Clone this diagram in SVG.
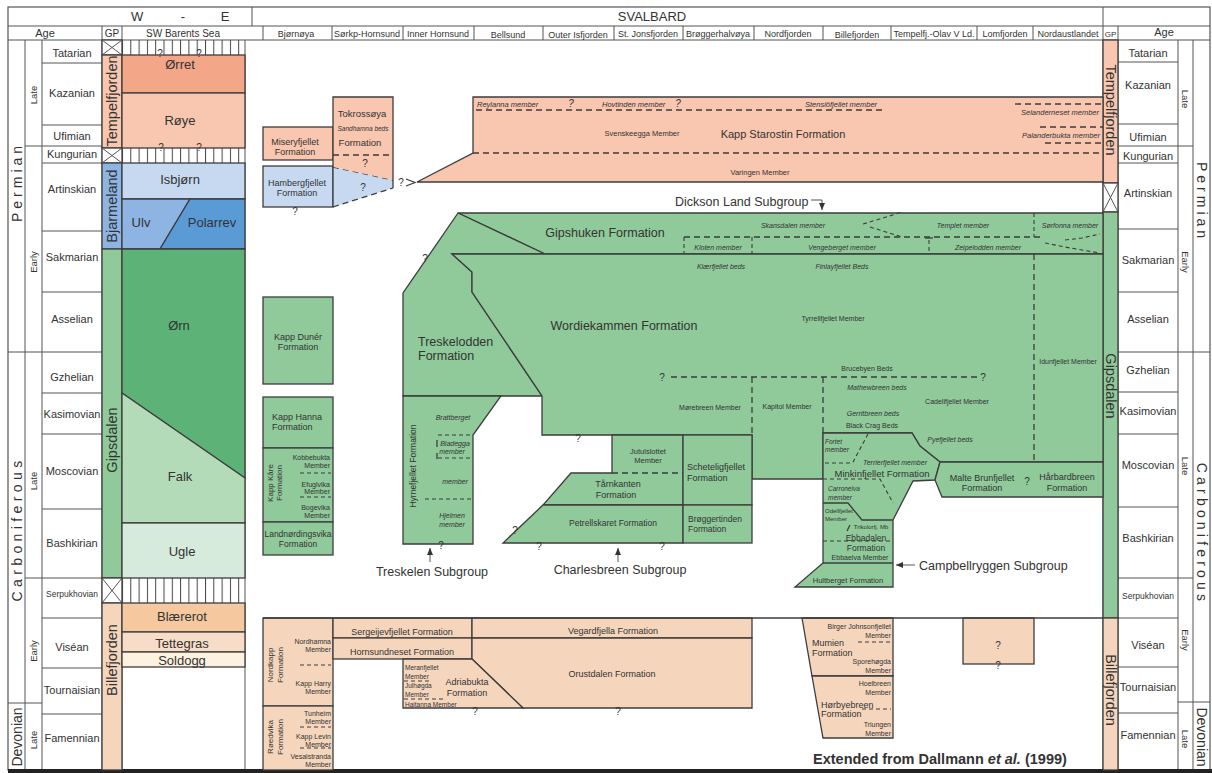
<svg xmlns="http://www.w3.org/2000/svg" width="1212" height="773" viewBox="0 0 1212 773">
<defs>
<pattern id="hatch" patternUnits="userSpaceOnUse" x="122" y="0" width="8.3" height="10">
<line x1="0.5" y1="0" x2="0.5" y2="10" stroke="#444" stroke-width="1"/>
</pattern>
<marker id="ah" markerWidth="8" markerHeight="8" refX="7" refY="4" orient="auto" markerUnits="userSpaceOnUse">
<path d="M0,1 L7,4 L0,7 Z" fill="#333"/>
</marker>
</defs>
<style>
.t{font-family:"Liberation Sans",Arial,Helvetica,sans-serif;fill:#333}
.i{font-style:italic}
.m{text-anchor:middle}
.e{text-anchor:end}
.bd{font-weight:bold}
.b{stroke:#3d3d3d;stroke-width:1.3}
.l{stroke:#555;stroke-width:1;fill:none}
.sl{stroke:#3d3d3d;stroke-width:1.3;fill:none}
.d{stroke:#3d3d3d;stroke-width:1.3;fill:none;stroke-dasharray:6 4}
.ds{stroke:#3d3d3d;stroke-width:1.1;fill:none;stroke-dasharray:4 3}
.sal{fill:#f9c6b0}.org{fill:#f4a688}.bl1{fill:#c6d9f0}.bl2{fill:#8db4e2}.bl3{fill:#5b9bd5}
.grn{fill:#90c99a}.dgr{fill:#5db377}.lgr{fill:#b4dbb8}.vlg{fill:#d6ebdc}
.pch{fill:#f5d6bd}.bla{fill:#f5c89f}.tet{fill:#f7dcc7}.sol{fill:#fdf1df}
.s6{font-size:6px}.s65{font-size:6.5px}.s7{font-size:7px}.s75{font-size:7.5px}.s8{font-size:8px}.s85{font-size:8.5px}
.s9{font-size:9px}.s95{font-size:9.5px}.s10{font-size:10px}.s11{font-size:11px}.s125{font-size:12.5px}.s13{font-size:13px}.s14{font-size:14px}.s145{font-size:14.5px}
</style>
<rect x="0" y="0" width="1212" height="773" fill="#fff"/>

<g id="frame">
<rect x="8" y="7" width="1202" height="763" fill="none" stroke="#555" stroke-width="1.2"/>
<line class="l" x1="8" y1="26" x2="1210" y2="26"/>
<line class="l" x1="8" y1="40" x2="1210" y2="40"/>
<line class="l" x1="252" y1="7" x2="252" y2="26"/>
<line class="l" x1="1103" y1="7" x2="1103" y2="770"/>
<g class="l">
<line x1="102" y1="26" x2="102" y2="770"/><line x1="122" y1="26" x2="122" y2="770"/><line x1="245" y1="40" x2="245" y2="770"/>
<line x1="25" y1="40" x2="25" y2="770"/><line x1="42" y1="40" x2="42" y2="770"/>
<line x1="263" y1="26" x2="263" y2="40"/><line x1="332" y1="26" x2="332" y2="40"/><line x1="403" y1="26" x2="403" y2="40"/>
<line x1="474" y1="26" x2="474" y2="40"/><line x1="543" y1="26" x2="543" y2="40"/><line x1="614" y1="26" x2="614" y2="40"/>
<line x1="683" y1="26" x2="683" y2="40"/><line x1="754" y1="26" x2="754" y2="40"/><line x1="823" y1="26" x2="823" y2="40"/>
<line x1="891" y1="26" x2="891" y2="40"/><line x1="977" y1="26" x2="977" y2="40"/><line x1="1033" y1="26" x2="1033" y2="40"/>
<line x1="1118" y1="26" x2="1118" y2="770"/><line x1="1178" y1="40" x2="1178" y2="770"/><line x1="1193" y1="40" x2="1193" y2="770"/>
</g>
<text class="t s13" x="131" y="21">W</text>
<text class="t s13 m" x="183" y="21">-</text>
<text class="t s13 m" x="225" y="21">E</text>
<text class="t s13 m" x="652" y="21">SVALBARD</text>
<text class="t s11 m" x="45" y="37">Age</text>
<text class="t s10 m" x="112" y="37">GP</text>
<text class="t s10 m" x="183" y="37">SW Barents Sea</text>
<g class="t s9 m">
<text x="296" y="37">Bjørnøya</text>
<text x="367" y="37">Sørkp-Hornsund</text>
<text x="438" y="37">Inner Hornsund</text>
<text x="508" y="38">Bellsund</text>
<text x="578" y="37.5">Outer Isfjorden</text>
<text x="648" y="37">St. Jonsfjorden</text>
<text x="718" y="37">Brøggerhalvøya</text>
<text x="788" y="37">Nordfjorden</text>
<text x="857" y="38">Billefjorden</text>
<text x="934" y="37">Tempelfj.-Olav V Ld.</text>
<text x="1005" y="37">Lomfjorden</text>
<text x="1068" y="37">Nordaustlandet</text>
</g>
<text class="t s8 m" x="1110.5" y="37">GP</text>
<text class="t s11 m" x="1164" y="36">Age</text>
<rect x="8" y="769" width="1204" height="4" fill="#222"/>
</g>

<g id="age-left">
<g class="l">
<line x1="42" y1="63" x2="102" y2="63"/><line x1="42" y1="125" x2="102" y2="125"/><line x1="25" y1="146" x2="102" y2="146"/>
<line x1="42" y1="163" x2="102" y2="163"/><line x1="42" y1="231" x2="102" y2="231"/><line x1="42" y1="292" x2="102" y2="292"/>
<line x1="8" y1="352" x2="102" y2="352"/><line x1="42" y1="393" x2="102" y2="393"/><line x1="42" y1="434" x2="102" y2="434"/>
<line x1="42" y1="509" x2="102" y2="509"/><line x1="25" y1="578" x2="102" y2="578"/><line x1="42" y1="618" x2="102" y2="618"/>
<line x1="42" y1="668" x2="102" y2="668"/><line x1="8" y1="703" x2="42" y2="703"/><line x1="42" y1="714" x2="102" y2="714"/>
</g>
<g class="t s11 m">
<text x="72" y="57">Tatarian</text><text x="72" y="97">Kazanian</text><text x="72" y="140">Ufimian</text>
<text x="72" y="158">Kungurian</text><text x="72" y="193">Artinskian</text><text x="72" y="261">Sakmarian</text>
<text x="72" y="323">Asselian</text><text x="72" y="381">Gzhelian</text><text x="72" y="418">Kasimovian</text>
<text x="72" y="475">Moscovian</text><text x="72" y="547">Bashkirian</text>
<text x="72" y="651">Viséan</text><text x="72" y="694">Tournaisian</text><text x="72" y="742">Famennian</text>
</g>
<text class="t s85 m" x="72" y="597">Serpukhovian</text>
<g class="t s95 m">
<text transform="translate(33.5,95) rotate(-90)" y="3.3">Late</text>
<text transform="translate(33.5,262) rotate(-90)" y="3.3">Early</text>
<text transform="translate(33.5,481) rotate(-90)" y="3.3">Late</text>
<text transform="translate(33.5,651) rotate(-90)" y="3.3">Early</text>
<text transform="translate(33.5,740) rotate(-90)" y="3.3">Late</text>
</g>
<g class="t s14 m">
<text transform="translate(17,182) rotate(-90)" y="5" letter-spacing="4">Permian</text>
<text transform="translate(17,529) rotate(-90)" y="5" letter-spacing="4.4">Carboniferous</text>
<text transform="translate(17,737) rotate(-90)" y="5">Devonian</text>
</g>
</g>

<g id="gp-left">
<rect x="102" y="40" width="20" height="15" fill="#fff" class="b"/>
<path class="l" d="M102,40 L122,55 M122,40 L102,55"/>
<rect x="102" y="55" width="20" height="93" class="sal b"/>
<rect x="102" y="148" width="20" height="15" fill="#fff" class="b"/>
<path class="l" d="M102,148 L122,163 M122,148 L102,163"/>
<rect x="102" y="163" width="20" height="86" class="bl2 b"/>
<rect x="102" y="249" width="20" height="329" class="grn b"/>
<rect x="102" y="578" width="20" height="25" fill="#fff" class="b"/>
<path class="l" d="M102,578 L122,603 M122,578 L102,603"/>
<rect x="102" y="603" width="20" height="167" class="pch b"/>
<g class="t s145 m">
<text transform="translate(112,101) rotate(-90)" y="5">Tempelfjorden</text>
<text transform="translate(112,206) rotate(-90)" y="5">Bjarmeland</text>
<text transform="translate(112,440) rotate(-90)" y="5">Gipsdalen</text>
<text transform="translate(112,660) rotate(-90)" y="5">Billefjorden</text>
</g>
</g>

<g id="sw-barents">
<rect x="122" y="40" width="123" height="15" fill="url(#hatch)"/>
<rect x="122" y="55" width="123" height="38" class="org b"/>
<rect x="122" y="93" width="123" height="55" class="sal b"/>
<rect x="122" y="148" width="123" height="15" fill="url(#hatch)"/>
<rect x="122" y="163" width="123" height="36" class="bl1 b"/>
<polygon points="122,199 190,199 160,249 122,249" class="bl2 b"/>
<polygon points="190,199 245,199 245,249 160,249" class="bl3 b"/>
<polygon points="122,249 245,249 245,478 122,393" class="dgr b"/>
<polygon points="122,393 245,478 245,523 122,523" class="lgr b"/>
<rect x="122" y="523" width="123" height="55" class="vlg b"/>
<rect x="122" y="578" width="123" height="25" fill="url(#hatch)"/>
<rect x="122" y="603" width="123" height="29" class="bla b"/>
<rect x="122" y="632" width="123" height="20" class="tet b"/>
<rect x="122" y="652" width="123" height="15" class="sol b"/>
<g class="t s10 m">
<text x="160" y="57">?</text><text x="199" y="57">?</text>
<text x="161" y="151">?</text><text x="199" y="151">?</text>
</g>
<g class="t s13 m">
<text x="180" y="69">Ørret</text><text x="180" y="125">Røye</text><text x="180" y="184">Isbjørn</text>
<text x="141" y="227">Ulv</text><text x="212" y="227">Polarrev</text><text x="179" y="330">Ørn</text>
<text x="180" y="481">Falk</text><text x="182" y="556">Ugle</text><text x="182" y="621">Blærerot</text>
<text x="182" y="648">Tettegras</text><text x="182" y="665">Soldogg</text>
</g>
</g>

<g id="age-right">
<g class="l">
<line x1="1118" y1="62" x2="1178" y2="62"/><line x1="1118" y1="124" x2="1178" y2="124"/><line x1="1118" y1="146" x2="1193" y2="146"/>
<line x1="1118" y1="163" x2="1178" y2="163"/><line x1="1118" y1="229" x2="1178" y2="229"/><line x1="1118" y1="292" x2="1178" y2="292"/>
<line x1="1118" y1="352" x2="1210" y2="352"/><line x1="1118" y1="392" x2="1178" y2="392"/><line x1="1118" y1="434" x2="1178" y2="434"/>
<line x1="1118" y1="507" x2="1178" y2="507"/><line x1="1118" y1="578" x2="1193" y2="578"/><line x1="1118" y1="618" x2="1178" y2="618"/>
<line x1="1118" y1="667" x2="1178" y2="667"/><line x1="1178" y1="702" x2="1210" y2="702"/><line x1="1118" y1="713" x2="1178" y2="713"/>
</g>
<g class="t s11 m">
<text x="1148" y="57">Tatarian</text><text x="1148" y="89">Kazanian</text><text x="1148" y="141">Ufimian</text>
<text x="1148" y="160">Kungurian</text><text x="1148" y="197">Artinskian</text><text x="1148" y="264">Sakmarian</text>
<text x="1148" y="323">Asselian</text><text x="1148" y="374">Gzhelian</text><text x="1148" y="415">Kasimovian</text>
<text x="1148" y="469">Moscovian</text><text x="1148" y="542">Bashkirian</text>
<text x="1148" y="649">Viséan</text><text x="1148" y="691">Tournaisian</text><text x="1148" y="739">Famennian</text>
</g>
<text class="t s85 m" x="1148" y="599">Serpukhovian</text>
<g class="t s95 m">
<text transform="translate(1185.5,99) rotate(90)" y="3.3">Late</text>
<text transform="translate(1185.5,262) rotate(90)" y="3.3">Early</text>
<text transform="translate(1185.5,466) rotate(90)" y="3.3">Late</text>
<text transform="translate(1185.5,640) rotate(90)" y="3.3">Early</text>
<text transform="translate(1185.5,739) rotate(90)" y="3.3">Late</text>
</g>
<g class="t s14 m">
<text transform="translate(1202,202) rotate(90)" y="5" letter-spacing="4">Permian</text>
<text transform="translate(1202,534) rotate(90)" y="5" letter-spacing="4.2">Carboniferous</text>
<text transform="translate(1202,737) rotate(90)" y="5">Devonian</text>
</g>
</g>

<g id="gp-right">
<rect x="1103" y="40" width="15" height="143" class="sal b"/>
<rect x="1103" y="183" width="15" height="29" fill="#fff" class="b"/>
<path class="l" d="M1103,183 L1118,212 M1118,183 L1103,212"/>
<rect x="1103" y="212" width="15" height="406" class="grn b"/>
<rect x="1103" y="618" width="15" height="152" class="pch b"/>
<g class="t s145 m">
<text transform="translate(1110.5,110) rotate(90)" y="5">Tempelfjorden</text>
<text transform="translate(1110.5,386) rotate(90)" y="5">Gipsdalen</text>
<text transform="translate(1110.5,690) rotate(90)" y="5">Billefjorden</text>
</g>
</g>

<g id="miseryfjellet">
<rect x="263" y="127" width="70" height="33" class="sal b"/>
<text class="t s9 m" x="295" y="145">Miseryfjellet</text>
<text class="t s9 m" x="295" y="154.5">Formation</text>
</g>
<g id="hambergfjellet">
<rect x="263" y="166" width="70" height="41" class="bl1 b"/>
<polygon points="333,167 393,180 393,188 333,207" class="bl1"/>
<line class="d" x1="333" y1="167" x2="393" y2="180"/>
<line class="d" x1="333" y1="207" x2="393" y2="188"/>
<text class="t s9 m" x="297" y="186">Hambergfjellet</text>
<text class="t s9 m" x="297" y="195.5">Formation</text>
<text class="t s10 m" x="295" y="215">?</text>
<text class="t s10 m" x="363" y="191">?</text>
</g>
<g id="tokrossoya">
<polygon points="333,97 393,97 393,180 333,167" class="sal"/>
<polyline class="sl" points="333,207 333,97 393,97 393,188"/>
<line class="d" x1="333" y1="155" x2="393" y2="155"/>
<text class="t s95 m" x="362" y="117">Tokrossøya</text>
<text class="t s65 i m" x="363" y="130.5">Sandhamna beds</text>
<text class="t s95 m" x="360" y="146">Formation</text>
<text class="t s10 m" x="365" y="167">?</text>
<text class="t s10 m" x="401" y="186">?</text>
<polyline class="sl" points="406,179 415,182.5 406,186"/>
</g>

<g id="kapp-starostin">
<polygon points="473,97 1103,97 1103,182 417,182 473,153" class="sal b"/>
<line class="d" x1="476" y1="110" x2="886" y2="110"/>
<line class="d" x1="473" y1="153" x2="1103" y2="153"/>
<line class="d" x1="1015" y1="104" x2="1103" y2="104"/>
<line class="d" x1="1040" y1="127" x2="1103" y2="127"/>
<line class="d" x1="1045" y1="143" x2="1103" y2="143"/>
<g class="t s75 i">
<text x="477" y="107">Reylanna member</text>
<text x="602" y="107">Hovtinden member</text>
<text x="805" y="107">Stensiöfjellet member</text>
<text class="e" x="1099" y="114.5">Selanderneset member</text>
<text class="e" x="1100" y="137.5">Palanderbukta member</text>
</g>
<text class="t s10 i m" x="571" y="107">?</text>
<text class="t s10 i m" x="678" y="107">?</text>
<text class="t s75 m" x="642" y="136">Svenskeegga Member</text>
<text class="t s11 m" x="783" y="138">Kapp Starostin Formation</text>
<text class="t s75 m" x="760" y="174.5">Varingen Member</text>
</g>

<g id="gipshuken">
<polygon points="458,213 1103,213 1103,254 545,254" class="grn b"/>
<line class="d" x1="684" y1="237" x2="1040" y2="237"/>
<line class="ds" x1="684" y1="237" x2="684" y2="254"/>
<line class="ds" x1="752" y1="237" x2="752" y2="254"/>
<line class="ds" x1="929" y1="240" x2="929" y2="254"/>
<line class="sl" x1="925" y1="238" x2="933" y2="238"/>
<line class="ds" x1="1034" y1="213" x2="1034" y2="237"/>
<polyline class="ds" points="863,224 883,218 902,212"/>
<polyline class="ds" points="870,227 886,232 902,237"/>
<polyline class="ds" points="1045,243 1070,248 1100,253"/>
<polyline class="ds" points="1065,240 1082,238 1100,234"/>
<text class="t s125 m" x="605" y="236.5">Gipshuken Formation</text>
<g class="t s7 i m">
<text x="793" y="227.5">Skansdalen member</text>
<text x="963" y="227.5">Templet member</text>
<text x="1070" y="227.5">Sørfonna member</text>
<text x="718" y="250">Kloten member</text>
<text x="842" y="250">Vengeberget member</text>
<text x="988" y="250">Zeipelodden member</text>
</g>
</g>

<g id="treskelodden">
<polygon points="458,213 545,254 452,254 472,272 472,292 542,396 403,396 403,293" class="grn b"/>
<text class="t s125" x="418" y="346">Treskelodden</text>
<text class="t s125" x="418" y="360">Formation</text>
<text class="t s10 m" x="425" y="262">?</text>
</g>

<g id="wordiekammen">
<polygon points="452,254 1103,254 1103,462 940,462 920,446 912,433 823,433 823,479 752,479 752,435 542,435 542,396 472,292 472,272" class="grn b"/>
<line class="d" x1="1034" y1="254" x2="1034" y2="462"/>
<line class="d" x1="671" y1="377" x2="977" y2="377"/>
<line class="d" x1="752" y1="377" x2="752" y2="435"/>
<line class="d" x1="823" y1="377" x2="823" y2="433"/>
<text class="t s125 m" x="624" y="330">Wordiekammen Formation</text>
<g class="t s7 i m">
<text x="721" y="268.5">Kiærfjellet beds</text>
<text x="842" y="268.5">Finlayfjellet Beds</text>
<text x="877" y="389.5">Mathewbreen beds</text>
<text x="873" y="416">Gerritbreen beds</text>
<text x="950" y="441.5">Pyefjellet beds</text>
</g>
<g class="t s7 m">
<text x="833" y="320.5">Tyrrellfjellet Member</text>
<text x="867" y="370.5">Brucebyen Beds</text>
<text x="710" y="409.5">Mørebreen Member</text>
<text x="787" y="408.5">Kapitol Member</text>
<text x="957" y="404">Cadellfjellet Member</text>
<text x="872" y="428">Black Crag Beds</text>
<text x="1068" y="363.5">Idunfjellet Member</text>
</g>
<text class="t s10 m" x="662" y="381">?</text>
<text class="t s10 m" x="983" y="381">?</text>
<text class="t s10 m" x="578" y="442">?</text>
</g>

<g id="hyrnefjellet">
<polygon points="403,396 501,396 473,435 473,544 403,544" class="grn b"/>
<line class="ds" x1="438" y1="435" x2="472" y2="435"/>
<line class="ds" x1="438" y1="458" x2="472" y2="458"/>
<line class="ds" x1="425" y1="499" x2="472" y2="499"/>
<line class="sl" x1="437" y1="440" x2="437" y2="447"/>
<line class="sl" x1="437" y1="453" x2="437" y2="459"/>
<text class="t s85 m" transform="translate(413,466) rotate(-90)" y="3">Hyrnefjellet Formation</text>
<g class="t s7 i m">
<text x="453" y="419.5">Brattberget</text>
<text x="455" y="445.5">Bladegga</text>
<text x="452" y="454">member</text>
<text x="455" y="484">member</text>
<text x="452" y="518">Hjelmen</text>
<text x="452" y="527">member</text>
</g>
<text class="t s10 m" x="441" y="549">?</text>
</g>

<g id="jutulslottet-tarnkanten">
<polygon points="612,435 683,435 683,505 543,505 571,473 612,473" class="grn b"/>
<line class="d" x1="612" y1="473" x2="683" y2="473"/>
<text class="t s75 m" x="648" y="454">Jutulslottet</text>
<text class="t s75 m" x="648" y="463">Member</text>
<text class="t s9 m" x="618" y="487">Tårnkanten</text>
<text class="t s9 m" x="616" y="497.5">Formation</text>
</g>
<g id="scheteligfjellet">
<rect x="683" y="435" width="69" height="70" class="grn b"/>
<text class="t s9" x="687" y="470">Scheteligfjellet</text>
<text class="t s9" x="687" y="481">Formation</text>
</g>
<g id="petrellskaret">
<polygon points="543,505 683,505 683,543 503,543" class="grn b"/>
<text class="t s85 m" x="613" y="526">Petrellskaret Formation</text>
<text class="t s10 m" x="515" y="534">?</text>
<text class="t s10 m" x="539" y="550">?</text>
<text class="t s10 m" x="662" y="550">?</text>
</g>
<g id="broggertinden">
<rect x="683" y="505" width="69" height="38" class="grn b"/>
<text class="t s85" x="688" y="522">Brøggertinden</text>
<text class="t s85" x="688" y="532">Formation</text>
</g>

<g id="minkinfjellet">
<polygon points="823,433 912,433 920,446 940,462 935,480 913,481 893,520 893,587 795,587 823,563" class="grn b"/>
<polyline class="sl" points="823,503 848,503 862,520 893,520"/>
<line class="sl" x1="823" y1="563" x2="893" y2="563"/>
<line class="ds" x1="868" y1="434" x2="852" y2="464"/>
<line class="ds" x1="825" y1="463" x2="852" y2="463"/>
<polyline class="ds" points="823,479 880,479 893,503"/>
<line class="ds" x1="823" y1="541" x2="893" y2="541"/>
<line class="sl" x1="847" y1="531" x2="850" y2="525"/>
<g class="t s65 i">
<text x="825" y="443.5">Fortet</text>
<text x="825" y="451.5">member</text>
<text x="828" y="490.5">Carronelva</text>
<text x="828" y="499.5">member</text>
</g>
<text class="t s7 i m" x="895" y="464.5">Terrierfjellet member</text>
<text class="t s95 m" x="882" y="477">Minkinfjellet Formation</text>
<text class="t s6" x="825" y="513">Odellfjellet</text>
<text class="t s6" x="825" y="520.5">Member</text>
<text class="t s6 m" x="871" y="528.5">Trikolorfj. Mb</text>
<text class="t s85 m" x="866" y="541">Ebbadalen</text>
<text class="t s85 m" x="866" y="551">Formation</text>
<text class="t s7 m" x="860" y="560">Ebbaelva Member</text>
<text class="t s75 m" x="848" y="582.5">Hultberget Formation</text>
</g>

<g id="malte-brunfjellet">
<polygon points="940,462 1103,462 1103,497 942,497 935,480" class="grn b"/>
<text class="t s9 m" x="982" y="480.5">Malte Brunfjellet</text>
<text class="t s9 m" x="982" y="490.5">Formation</text>
<text class="t s10 m" x="1027" y="485">?</text>
<text class="t s9 m" x="1067" y="480">Hårbardbreen</text>
<text class="t s9 m" x="1067" y="490.5">Formation</text>
</g>

<g id="kapp-duner">
<rect x="263" y="297" width="70" height="87" class="grn b"/>
<text class="t s9 m" x="298" y="340">Kapp Dunér</text>
<text class="t s9 m" x="298" y="350">Formation</text>
</g>
<g id="kapp-hanna">
<rect x="263" y="397" width="70" height="51" class="grn b"/>
<text class="t s9" x="272" y="420">Kapp Hanna</text>
<text class="t s9" x="272" y="429.5">Formation</text>
</g>
<g id="kapp-kare">
<rect x="263" y="448" width="70" height="74" class="grn b"/>
<line class="ds" x1="300" y1="473" x2="331" y2="473"/>
<line class="ds" x1="300" y1="497" x2="331" y2="497"/>
<text class="t s8 m" transform="translate(270,483) rotate(-90)" y="3">Kapp Kåre</text>
<text class="t s8 m" transform="translate(279,483) rotate(-90)" y="3">Formation</text>
<g class="t s7 e">
<text x="330" y="459.5">Kobbebukta</text><text x="330" y="467.5">Member</text>
<text x="330" y="486.5">Efuglvika</text><text x="330" y="494">Member</text>
<text x="330" y="509.5">Bogevika</text><text x="330" y="517.5">Member</text>
</g>
</g>
<g id="landnordingsvika">
<rect x="263" y="522" width="70" height="33" class="grn b"/>
<text class="t s85 m" x="298" y="537">Landnørdingsvika</text>
<text class="t s85 m" x="298" y="547">Formation</text>
</g>

<g id="nordkapp">
<rect x="263" y="618" width="70" height="88" class="pch b"/>
<line class="ds" x1="300" y1="665" x2="331" y2="665"/>
<text class="t s8 m" transform="translate(270,665) rotate(-90)" y="3">Nordkapp</text>
<text class="t s8 m" transform="translate(280,665) rotate(-90)" y="3">Formation</text>
<g class="t s7 e">
<text x="331" y="643.5">Nordhamna</text><text x="331" y="651.5">Member</text>
<text x="331" y="685.5">Kapp Harry</text><text x="331" y="694">Member</text>
</g>
</g>
<g id="roedvika">
<rect x="263" y="706" width="70" height="64" class="pch b"/>
<line class="ds" x1="300" y1="727" x2="331" y2="727"/>
<line class="ds" x1="300" y1="748" x2="331" y2="748"/>
<text class="t s8 m" transform="translate(270,737) rotate(-90)" y="3">Røedvika</text>
<text class="t s8 m" transform="translate(280,737) rotate(-90)" y="3">Formation</text>
<g class="t s7 e">
<text x="331" y="715.5">Tunheim</text><text x="331" y="724">Member</text>
<text x="331" y="738.5">Kapp Levin</text><text x="331" y="746.5">Member</text>
<text x="331" y="758.5">Vesalstranda</text><text x="331" y="766.5">Member</text>
</g>
</g>

<g id="sergeijevfjellet">
<rect x="333" y="618" width="139" height="20" class="pch b"/>
<text class="t s9 m" x="402" y="634.5">Sergeijevfjellet Formation</text>
</g>
<g id="hornsundneset">
<rect x="333" y="638" width="139" height="21" class="pch b"/>
<text class="t s9 m" x="402" y="654.5">Hornsundneset Formation</text>
</g>
<g id="vegardfjella">
<rect x="472" y="618" width="280" height="20" class="pch b"/>
<text class="t s9 m" x="613" y="633.5">Vegardfjella Formation</text>
</g>
<g id="orustdalen">
<polygon points="472,638 752,638 752,708 523,708 472,659" class="pch b"/>
<text class="t s9 m" x="612" y="676.5">Orustdalen Formation</text>
<text class="t s10 m" x="618" y="715">?</text>
</g>
<g id="adriabukta">
<polygon points="403,659 472,659 523,708 403,708" class="pch b"/>
<line class="ds" x1="404" y1="681" x2="432" y2="681"/>
<line class="ds" x1="404" y1="699" x2="446" y2="699"/>
<g class="t s65">
<text x="405" y="669.5">Meranfjellet</text><text x="405" y="679">Member</text>
<text x="405" y="688">Julhøgda</text><text x="405" y="697">Member</text>
<text x="405" y="707">Haitanna Member</text>
</g>
<text class="t s9 m" x="467" y="685">Adriabukta</text>
<text class="t s9 m" x="467" y="696">Formation</text>
<text class="t s10 m" x="475" y="715">?</text>
</g>

<g id="mumien">
<polygon points="802,618 893,618 893,676 812,676" class="pch b"/>
<line class="ds" x1="858" y1="642" x2="891" y2="642"/>
<g class="t s7 e">
<text x="891" y="629">Birger Johnsonfjellet</text><text x="891" y="637.5">Member</text>
<text x="891" y="664">Sporehøgda</text><text x="891" y="673">Member</text>
</g>
<text class="t s9" x="812" y="645.5">Mumien</text>
<text class="t s9" x="812" y="655.5">Formation</text>
</g>
<g id="horbyebreen">
<polygon points="812,676 893,676 893,738 823,738" class="pch b"/>
<line class="ds" x1="862" y1="709" x2="891" y2="709"/>
<g class="t s7 e">
<text x="891" y="685.5">Hoelbreen</text><text x="891" y="695">Member</text>
<text x="891" y="727">Triungen</text><text x="891" y="735.5">Member</text>
</g>
<text class="t s9" x="821" y="707.5">Hørbyebreen</text>
<text class="t s9" x="821" y="716.5">Formation</text>
</g>
<g id="unknown-box">
<rect x="963" y="618" width="71" height="46" class="pch b"/>
<text class="t s10 m" x="998" y="649">?</text>
<text class="t s10 m" x="998" y="669">?</text>
</g>
<line class="sl" x1="263" y1="618" x2="1103" y2="618"/>

<g id="connectors">
<polyline class="l" points="811,200 822,200 822,210" marker-end="url(#ah)" stroke="#333"/>
<line class="l" x1="430" y1="562" x2="430" y2="548" marker-end="url(#ah)" stroke="#333"/>
<line class="l" x1="618" y1="562" x2="618" y2="548" marker-end="url(#ah)" stroke="#333"/>
<line class="l" x1="915" y1="565" x2="896" y2="565" marker-end="url(#ah)" stroke="#333"/>
</g>
<g id="labels">
<text class="t s125" x="675" y="205.5">Dickson Land Subgroup</text>
<text class="t s125 m" x="432" y="575.5">Treskelen Subgroup</text>
<text class="t s125 m" x="620" y="573.5">Charlesbreen Subgroup</text>
<text class="t s125" x="919" y="570">Campbellryggen Subgroup</text>
<text class="t bd" x="813" y="764" font-size="14.5">Extended from Dallmann <tspan font-style="italic">et al.</tspan> (1999)</text>
</g>
</svg>
